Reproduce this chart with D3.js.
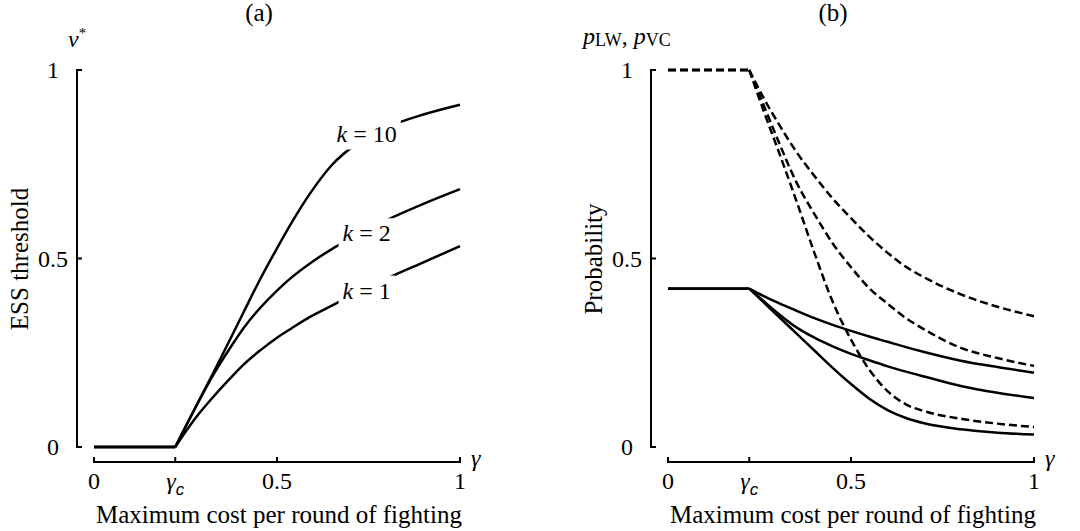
<!DOCTYPE html>
<html><head><meta charset="utf-8">
<script src="https://cdn.jsdelivr.net/npm/d3@7"></script>
<style>
body{margin:0;background:#fff}
svg{display:block}
text{font-family:"Liberation Serif","Times New Roman",serif;fill:#000}
</style>
</head><body>
<svg id="c" width="1080" height="531"></svg>
<script>
// ---------- data ----------
const gammaC = 0.222;
const xTickValues = [0, gammaC, 0.5, 1];
const xTickLabels = ["0", "γc", "0.5", "1"];
const yTickValues = [0, 0.5, 1];
const yTickLabels = ["0", "0.5", "1"];

// panel (a): ESS threshold v*
const gammaA = [0, 0.222, 0.28, 0.325, 0.37, 0.41, 0.455, 0.5, 0.54, 0.59, 0.65, 0.72, 0.8, 0.9, 1.0];
const vK10   = [0, 0, 0.11, 0.195, 0.282, 0.36, 0.447, 0.527, 0.595, 0.672, 0.748, 0.806, 0.848, 0.882, 0.908];
const vK2    = [0, 0, 0.11, 0.19, 0.26, 0.317, 0.37, 0.415, 0.45, 0.487, 0.525, 0.562, 0.602, 0.645, 0.684];
const vK1    = [0, 0, 0.08, 0.132, 0.18, 0.22, 0.257, 0.29, 0.315, 0.345, 0.375, 0.41, 0.447, 0.49, 0.533];
const kNames = ["k = 10", "k = 2", "k = 1"];
// label anchors (data units) for the curve labels
const kLabelGamma = [0.745, 0.745, 0.745];
const kLabelV     = [0.83, 0.568, 0.416];

// panel (b): probabilities
const gammaB = [0, 0.222, 0.26, 0.3, 0.35, 0.4, 0.45, 0.5, 0.55, 0.6, 0.65, 0.7, 0.8, 0.9, 1.0];
const pVC1 = [1, 1, 0.928, 0.861, 0.784, 0.719, 0.659, 0.607, 0.558, 0.515, 0.478, 0.45, 0.405, 0.372, 0.347];
const pVC2 = [1, 1, 0.91, 0.815, 0.704, 0.618, 0.54, 0.477, 0.421, 0.38, 0.342, 0.312, 0.263, 0.236, 0.215];
const pVC3 = [1, 1, 0.895, 0.79, 0.655, 0.515, 0.385, 0.285, 0.205, 0.148, 0.113, 0.095, 0.075, 0.062, 0.053];
const pLW1 = [0.42, 0.42, 0.401, 0.383, 0.362, 0.342, 0.324, 0.308, 0.293, 0.279, 0.265, 0.252, 0.229, 0.212, 0.197];
const pLW2 = [0.42, 0.42, 0.388, 0.355, 0.318, 0.29, 0.267, 0.247, 0.23, 0.214, 0.20, 0.187, 0.162, 0.144, 0.13];
const pLW3 = [0.42, 0.42, 0.385, 0.348, 0.302, 0.256, 0.21, 0.167, 0.128, 0.098, 0.077, 0.063, 0.047, 0.038, 0.033];

// ---------- drawing ----------
const svg = d3.select("#c");
const FS = 24, FT = 25;

function panel(offsetX, title, yTitle, drawYLabel) {
  const g = svg.append("g").attr("transform", `translate(${offsetX},0)`);
  const x = d3.scaleLinear().domain([0, 1]).range([94, 460]);
  const y = d3.scaleLinear().domain([0, 1]).range([447, 70]);
  const axisX = 77, axisY = 462;

  g.append("text").attr("x", 259).attr("y", 21).attr("text-anchor", "middle")
    .style("font-size", FT + "px").text(title);

  // y axis
  g.append("line").attr("x1", axisX).attr("x2", axisX).attr("y1", y(1)).attr("y2", y(0))
    .attr("stroke", "#000").attr("stroke-width", 2);
  yTickValues.forEach((v, i) => {
    g.append("line").attr("x1", axisX - 1).attr("x2", axisX + 5).attr("y1", y(v)).attr("y2", y(v))
      .attr("stroke", "#000").attr("stroke-width", 2);
    g.append("text").attr("x", axisX - 24).attr("y", y(v)).attr("dy", "0.35em")
      .attr("text-anchor", "middle").style("font-size", FS + "px").text(yTickLabels[i]);
  });

  // x axis
  g.append("line").attr("x1", x(0)).attr("x2", x(1)).attr("y1", axisY).attr("y2", axisY)
    .attr("stroke", "#000").attr("stroke-width", 2);
  xTickValues.forEach((v, i) => {
    g.append("line").attr("x1", x(v)).attr("x2", x(v)).attr("y1", axisY + 1).attr("y2", axisY - 5)
      .attr("stroke", "#000").attr("stroke-width", 2);
    const t = g.append("text").attr("x", x(v)).attr("y", 489).attr("text-anchor", "middle")
      .style("font-size", FS + "px");
    if (xTickLabels[i] === "γc") {
      t.append("tspan").style("font-style", "italic").text("γ");
      t.append("tspan").style("font-family", "'Liberation Sans',Arial,sans-serif")
        .style("font-style", "italic").style("font-size", "17px").attr("dy", 6).text("c");
    } else {
      t.text(xTickLabels[i]);
    }
  });
  g.append("text").attr("x", x(1) + 11).attr("y", 466).style("font-size", FS + "px")
    .style("font-style", "italic").text("γ");
  g.append("text").attr("x", 279).attr("y", 523).attr("text-anchor", "middle")
    .style("font-size", FT + "px").text("Maximum cost per round of fighting");

  g.append("text").attr("transform", `translate(19,259) rotate(-90)`)
    .attr("text-anchor", "middle").attr("dominant-baseline", "central")
    .style("font-size", FT + "px").text(yTitle);

  drawYLabel(g);
  return {g, x, y};
}

function drawSeries(g, x, y, xs, ys, dashed) {
  const pts = xs.map((d, i) => [d, ys[i]]);
  const flat = pts.filter(p => p[0] <= gammaC + 1e-9);
  const rise = pts.filter(p => p[0] >= gammaC - 1e-9);
  const lin = d3.line().x(p => x(p[0])).y(p => y(p[1]));
  const mono = d3.line().x(p => x(p[0])).y(p => y(p[1])).curve(d3.curveMonotoneX);
  [lin(flat), mono(rise)].forEach(d => {
    g.append("path").attr("d", d).attr("fill", "none").attr("stroke", "#000")
      .attr("stroke-width", 2.5).attr("stroke-dasharray", dashed ? "8,4" : null)
      .attr("stroke-linejoin", "round");
  });
}

// Panel (a)
const A = panel(0, "(a)", "ESS threshold", g => {
  const t = g.append("text").attr("x", 68).attr("y", 47).style("font-size", FS + "px");
  t.append("tspan").style("font-style", "italic").text("v");
  t.append("tspan").style("font-size", "15px").attr("dy", -9).text("*");
});
[vK10, vK2, vK1].forEach(s => drawSeries(A.g, A.x, A.y, gammaA, s, false));
kNames.forEach((name, i) => {
  const t = A.g.append("text").attr("x", A.x(kLabelGamma[i])).attr("y", A.y(kLabelV[i]))
    .attr("dy", "0.35em").attr("text-anchor", "middle").style("font-size", FS + "px");
  t.append("tspan").style("font-style", "italic").text("k");
  t.append("tspan").text(name.slice(1));
  const b = t.node().getBBox();
  A.g.insert("rect", () => t.node())
    .attr("x", b.x - 4).attr("y", b.y - 2).attr("width", b.width + 8).attr("height", b.height + 4)
    .attr("fill", "#fff");
});

// Panel (b)
const B = panel(574, "(b)", "Probability", g => {
  const t = g.append("text").attr("x", 9).attr("y", 44).style("font-size", FS + "px");
  t.append("tspan").style("font-style", "italic").text("p");
  t.append("tspan").style("font-size", "18px").attr("dy", 2).text("LW");
  t.append("tspan").attr("dy", -2).text(", ");
  t.append("tspan").style("font-style", "italic").text("p");
  t.append("tspan").style("font-size", "18px").attr("dy", 2).text("VC");
});
[pVC1, pVC2, pVC3].forEach(s => drawSeries(B.g, B.x, B.y, gammaB, s, true));
[pLW1, pLW2, pLW3].forEach(s => drawSeries(B.g, B.x, B.y, gammaB, s, false));
</script>
</body></html>
